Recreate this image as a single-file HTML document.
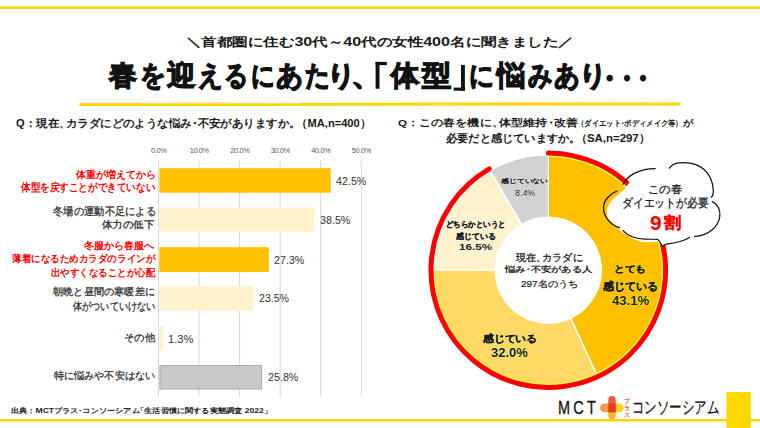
<!DOCTYPE html>
<html lang="ja"><head><meta charset="utf-8"><style>
html,body{margin:0;padding:0;background:#fff;}
body{width:760px;height:428px;position:relative;overflow:hidden;font-family:"Liberation Sans",sans-serif;}
svg.bg{position:absolute;left:0;top:0;}
.t{position:absolute;white-space:nowrap;line-height:1;transform-origin:0 0;}
</style></head><body>
<svg class="bg" width="760" height="428" viewBox="0 0 760 428">
<rect x="0" y="6.3" width="760" height="2.6" fill="#FFD200"/>
<path d="M80.5,104.6 C250,103.8 450,104.8 679.5,103.9" stroke="#FFD400" stroke-width="3.0" fill="none" stroke-linecap="round"/>
<path d="M140,103.4 C200,102.8 260,103.2 300,103.6" stroke="#FFE45A" stroke-width="1.2" fill="none" opacity="0.8"/>
<path d="M330,104.9 C380,105.6 420,105.2 460,104.4" stroke="#FFDD30" stroke-width="1.3" fill="none" opacity="0.8"/>
<path d="M560,103.2 C600,102.6 640,102.8 670,103.2" stroke="#FFE45A" stroke-width="1.2" fill="none" opacity="0.7"/>
<rect x="375.6" y="61.9" width="3.9" height="26.8" fill="#111"/>
<rect x="375.6" y="61.9" width="11.3" height="3.2" fill="#111"/>
<rect x="461" y="64.9" width="3.9" height="25.8" fill="#111"/>
<rect x="453.7" y="87.6" width="11.2" height="3.1" fill="#111"/>
<line x1="158.50" y1="160.5" x2="158.50" y2="396.5" stroke="#D9D9D9" stroke-width="1"/>
<line x1="199.05" y1="160.5" x2="199.05" y2="396.5" stroke="#D9D9D9" stroke-width="1"/>
<line x1="239.60" y1="160.5" x2="239.60" y2="396.5" stroke="#D9D9D9" stroke-width="1"/>
<line x1="280.15" y1="160.5" x2="280.15" y2="396.5" stroke="#D9D9D9" stroke-width="1"/>
<line x1="320.70" y1="160.5" x2="320.70" y2="396.5" stroke="#D9D9D9" stroke-width="1"/>
<line x1="361.25" y1="160.5" x2="361.25" y2="396.5" stroke="#D9D9D9" stroke-width="1"/>
<text x="158.70" y="152.7" font-size="7.4" fill="#595959" text-anchor="middle" font-family="Liberation Sans, sans-serif" letter-spacing="-0.35">0.0%</text>
<text x="199.25" y="152.7" font-size="7.4" fill="#595959" text-anchor="middle" font-family="Liberation Sans, sans-serif" letter-spacing="-0.35">10.0%</text>
<text x="239.80" y="152.7" font-size="7.4" fill="#595959" text-anchor="middle" font-family="Liberation Sans, sans-serif" letter-spacing="-0.35">20.0%</text>
<text x="280.35" y="152.7" font-size="7.4" fill="#595959" text-anchor="middle" font-family="Liberation Sans, sans-serif" letter-spacing="-0.35">30.0%</text>
<text x="320.90" y="152.7" font-size="7.4" fill="#595959" text-anchor="middle" font-family="Liberation Sans, sans-serif" letter-spacing="-0.35">40.0%</text>
<text x="361.45" y="152.7" font-size="7.4" fill="#595959" text-anchor="middle" font-family="Liberation Sans, sans-serif" letter-spacing="-0.35">50.0%</text>
<rect x="159.4" y="168.2" width="171.30" height="24.50" fill="#FFC000"/>
<rect x="159.4" y="207.5" width="154.80" height="24.50" fill="#FFF2CC"/>
<rect x="159.4" y="247.2" width="109.40" height="24.80" fill="#FFC000"/>
<rect x="159.4" y="286" width="94.00" height="24.90" fill="#FFF2CC"/>
<rect x="159.4" y="326" width="3.80" height="24.60" fill="#FFF2CC"/>
<rect x="159.9" y="365.6" width="101.70" height="23.40" fill="#C9C9C9" stroke="#ABABAB" stroke-width="1"/>
<path d="M548.30,154.70 A115.5,115.5 0 0 1 596.82,375.01 L570.56,318.30 A53,53 0 0 0 548.30,217.20 Z" fill="#FFC000" stroke="#fff" stroke-width="1.4" stroke-linejoin="miter"/>
<path d="M596.82,375.01 A115.5,115.5 0 0 1 432.80,269.47 L495.30,269.87 A53,53 0 0 0 570.56,318.30 Z" fill="#FFD966" stroke="#fff" stroke-width="1.4" stroke-linejoin="miter"/>
<path d="M432.80,269.47 A115.5,115.5 0 0 1 490.13,170.42 L521.61,224.41 A53,53 0 0 0 495.30,269.87 Z" fill="#FFF2CC" stroke="#fff" stroke-width="1.4" stroke-linejoin="miter"/>
<path d="M490.13,170.42 A115.5,115.5 0 0 1 548.30,154.70 L548.30,217.20 A53,53 0 0 0 521.61,224.41 Z" fill="#D3D1D1" stroke="#fff" stroke-width="1.4" stroke-linejoin="miter"/>
<path d="M549.30,156.00 A114.2,114.2 0 1 1 434.10,269.48" stroke="#FFF53A" stroke-width="1.8" fill="none"/>
<path d="M434.10,269.48 A114.2,114.2 0 0 1 489.93,172.05" stroke="#FFFDF0" stroke-width="1.6" fill="none"/>
<path d="M548.30,152.90 A117.3,117.3 0 1 1 489.22,168.86" stroke="#FF0000" stroke-width="5" fill="none" stroke-linecap="round"/>
<circle cx="548.3" cy="270.2" r="53" fill="#fff"/>
<path d="M607,214 C606,206 612,199 620,193 C624,190 626,187 629,183 C634,174 644,169 655,168.5 L669,168 C673,163 678,162.5 684,162.5 C700,162.5 712,172 713.3,190 L712.3,201.7 C718,204 720.5,210 719.8,216 C719,227 707,236.5 694.7,236.3 L689.5,237.4 C684,241 675,243 666.3,244 L662.6,246 L658,241.5 C650,243 640,243 630,237 C622,233 619,229 615,225 C610,221 607,218 607,214 Z" fill="#fff"/>
<path d="M617,191 C609,194 603.5,201 603.5,208 C603.5,216 610,225 619.5,227.6" fill="none" stroke="#111" stroke-width="1.25" stroke-linecap="round"/>
<path d="M623,184.3 C628,175 640,168.5 655.2,168.5" fill="none" stroke="#111" stroke-width="1.25" stroke-linecap="round"/>
<path d="M669.3,168.1 C673,163 678,162.5 684,162.5 C700,162.5 712,172 713.3,190 C713.5,193 712.5,196 711.4,197" fill="none" stroke="#111" stroke-width="1.25" stroke-linecap="round"/>
<path d="M712.3,201.7 C718,204 720.5,210 719.8,216 C719,227 707,236.5 694.7,236.3" fill="none" stroke="#111" stroke-width="1.25" stroke-linecap="round"/>
<path d="M623,230.6 C628,236 636,239 645,239 L658,239.5 L662.6,246 L666.3,244.2 C675,243 684,241 689.5,237.4" fill="none" stroke="#111" stroke-width="1.25" stroke-linecap="round"/>
<rect x="0" y="419" width="760" height="2.5" fill="#FFD200"/>
<rect x="726.4" y="392" width="24.4" height="36" fill="#FFD800"/>
<rect x="600" y="403.4" width="14" height="8.9" rx="4.45" fill="#F39A50"/>
<rect x="609.6" y="403.4" width="14" height="8.9" rx="4.45" fill="#FDD122"/>
<rect x="608.3" y="396" width="7.4" height="14" rx="3.7" fill="#EB5A38"/>
<rect x="608.3" y="404.6" width="7.4" height="14.6" rx="3.7" fill="#F8B526"/>
<rect x="608.3" y="403.4" width="7.4" height="8.9" fill="#E53B1E"/>
<text x="627.2" y="392.4" letter-spacing="1.5" font-size="6.3" fill="#E8352A" stroke="#E8352A" stroke-width="0.15" writing-mode="tb" font-family="Liberation Sans, sans-serif">プラス</text>
</svg>
<div id="sub" class="t" style="left:186.11px;top:36.28px;font-size:12.49px;font-weight:bold;color:#1a1a1a;transform:scaleX(1.2904);">＼首都圏に住む30代～40代の女性400名に聞きました／</div>
<div id="t0" class="t" style="left:109.16px;top:61.80px;font-size:27.80px;font-weight:bold;color:#111;transform:scaleX(0.9951);-webkit-text-stroke:1.25px #111;">春</div>
<div id="t1" class="t" style="left:139.89px;top:61.80px;font-size:27.80px;font-weight:bold;color:#111;transform:scaleX(0.9053);-webkit-text-stroke:1.25px #111;">を</div>
<div id="t2" class="t" style="left:166.64px;top:61.80px;font-size:27.80px;font-weight:bold;color:#111;transform:scaleX(1.0188);-webkit-text-stroke:1.25px #111;">迎</div>
<div id="t3" class="t" style="left:198.17px;top:61.80px;font-size:27.80px;font-weight:bold;color:#111;transform:scaleX(0.8777);-webkit-text-stroke:1.25px #111;">え</div>
<div id="t4" class="t" style="left:224.07px;top:61.80px;font-size:27.80px;font-weight:bold;color:#111;transform:scaleX(0.8539);-webkit-text-stroke:1.25px #111;">る</div>
<div id="t5" class="t" style="left:250.96px;top:61.80px;font-size:27.80px;font-weight:bold;color:#111;transform:scaleX(0.8381);-webkit-text-stroke:1.25px #111;">に</div>
<div id="t6" class="t" style="left:276.40px;top:61.80px;font-size:27.80px;font-weight:bold;color:#111;transform:scaleX(0.9608);-webkit-text-stroke:1.25px #111;">あ</div>
<div id="t7" class="t" style="left:304.86px;top:61.80px;font-size:27.80px;font-weight:bold;color:#111;transform:scaleX(0.8777);-webkit-text-stroke:1.25px #111;">た</div>
<div id="t8" class="t" style="left:327.13px;top:61.80px;font-size:27.80px;font-weight:bold;color:#111;transform:scaleX(1.0091);-webkit-text-stroke:1.25px #111;">り</div>
<div id="t9" class="t" style="left:351.13px;top:61.80px;font-size:27.80px;font-weight:bold;color:#111;transform:scaleX(1.1499);-webkit-text-stroke:1.25px #111;">、</div>
<div id="t11" class="t" style="left:391.01px;top:61.80px;font-size:27.80px;font-weight:bold;color:#111;transform:scaleX(1.0047);-webkit-text-stroke:1.25px #111;">体</div>
<div id="t12" class="t" style="left:422.29px;top:61.80px;font-size:27.80px;font-weight:bold;color:#111;transform:scaleX(1.0436);-webkit-text-stroke:1.25px #111;">型</div>
<div id="t14" class="t" style="left:468.85px;top:61.80px;font-size:27.80px;font-weight:bold;color:#111;transform:scaleX(0.8790);-webkit-text-stroke:1.25px #111;">に</div>
<div id="t15" class="t" style="left:496.73px;top:61.80px;font-size:27.80px;font-weight:bold;color:#111;transform:scaleX(1.0116);-webkit-text-stroke:1.25px #111;">悩</div>
<div id="t16" class="t" style="left:527.53px;top:61.80px;font-size:27.80px;font-weight:bold;color:#111;transform:scaleX(0.8586);-webkit-text-stroke:1.25px #111;">み</div>
<div id="t17" class="t" style="left:554.48px;top:61.80px;font-size:27.80px;font-weight:bold;color:#111;transform:scaleX(0.9160);-webkit-text-stroke:1.25px #111;">あ</div>
<div id="t18" class="t" style="left:579.45px;top:61.80px;font-size:27.80px;font-weight:bold;color:#111;transform:scaleX(0.9835);-webkit-text-stroke:1.25px #111;">り</div>
<div id="t19" class="t" style="left:596.40px;top:64.50px;font-size:27.80px;font-weight:bold;color:#111;transform:scaleX(0.9526);-webkit-text-stroke:1.25px #111;">・</div>
<div id="t20" class="t" style="left:613.58px;top:64.50px;font-size:27.80px;font-weight:bold;color:#111;transform:scaleX(0.9058);-webkit-text-stroke:1.25px #111;">・</div>
<div id="t21" class="t" style="left:630.16px;top:64.50px;font-size:27.80px;font-weight:bold;color:#111;transform:scaleX(0.9058);-webkit-text-stroke:1.25px #111;">・</div>
<div id="qL" class="t" style="left:16.00px;top:117.73px;font-size:10.68px;font-weight:bold;color:#1a1a1a;transform:scaleX(1.0402);">Q：現在<span style="margin-right:-.42em">、</span>カラダにどのような悩み<span style="margin:0 -.25em">・</span>不安がありますか<span style="margin-right:-.15em">。</span><span style="margin-left:-.25em">（</span>MA,n=400<span style="margin-right:-.42em">）</span></div>
<div id="c1a" class="t" style="left:75.60px;top:169.76px;font-size:9.61px;font-weight:bold;color:#ff0000;transform:scaleX(0.9999);">体重が増えてから</div>
<div id="c1b" class="t" style="left:20.99px;top:182.13px;font-size:10.60px;font-weight:bold;color:#ff0000;transform:scaleX(0.8711);">体型を戻すことができていない</div>
<div id="c2a" class="t" style="left:52.99px;top:206.44px;font-size:10.63px;font-weight:normal;color:#333333;transform:scaleX(0.9365);-webkit-text-stroke:0.30px #333333;">冬場の運動不足による</div>
<div id="c2b" class="t" style="left:102.46px;top:220.31px;font-size:10.43px;font-weight:normal;color:#333333;transform:scaleX(1.0482);-webkit-text-stroke:0.30px #333333;">体力の低下</div>
<div id="c3a" class="t" style="left:83.98px;top:241.17px;font-size:10.40px;font-weight:bold;color:#ff0000;transform:scaleX(1.0060);">冬服から春服へ</div>
<div id="c3b" class="t" style="left:12.19px;top:254.00px;font-size:9.68px;font-weight:bold;color:#ff0000;transform:scaleX(0.9546);">薄着になるためカラダのラインが</div>
<div id="c3c" class="t" style="left:51.00px;top:268.33px;font-size:9.66px;font-weight:bold;color:#ff0000;transform:scaleX(0.9479);">出やすくなることが心配</div>
<div id="c4a" class="t" style="left:52.83px;top:287.46px;font-size:10.42px;font-weight:normal;color:#333333;transform:scaleX(1.0202);-webkit-text-stroke:0.30px #333333;">朝晩と昼間の寒暖差に</div>
<div id="c4b" class="t" style="left:72.59px;top:301.48px;font-size:10.56px;font-weight:normal;color:#333333;transform:scaleX(0.8327);-webkit-text-stroke:0.30px #333333;">体がついていけない</div>
<div id="c5" class="t" style="left:124.01px;top:332.96px;font-size:9.78px;font-weight:normal;color:#333333;transform:scaleX(1.0322);-webkit-text-stroke:0.30px #333333;">その他</div>
<div id="c6" class="t" style="left:54.40px;top:370.99px;font-size:9.59px;font-weight:normal;color:#333333;transform:scaleX(1.0096);-webkit-text-stroke:0.30px #333333;">特に悩みや不安はない</div>
<div id="v1" class="t" style="left:336.22px;top:176.08px;font-size:10.54px;font-weight:normal;color:#333333;transform:scaleX(1.0169);">42.5%</div>
<div id="v2" class="t" style="left:319.58px;top:215.08px;font-size:10.54px;font-weight:normal;color:#333333;transform:scaleX(1.0182);">38.5%</div>
<div id="v3" class="t" style="left:274.00px;top:254.76px;font-size:10.54px;font-weight:normal;color:#333333;transform:scaleX(1.0169);">27.3%</div>
<div id="v4" class="t" style="left:259.00px;top:293.44px;font-size:10.54px;font-weight:normal;color:#333333;transform:scaleX(1.0037);">23.5%</div>
<div id="v5" class="t" style="left:167.94px;top:333.67px;font-size:10.54px;font-weight:normal;color:#333333;transform:scaleX(1.0595);">1.3%</div>
<div id="v6" class="t" style="left:268.00px;top:372.44px;font-size:10.54px;font-weight:normal;color:#333333;transform:scaleX(1.0182);">25.8%</div>
<div id="src" class="t" style="left:11.00px;top:407.39px;font-size:7.34px;font-weight:bold;color:#1a1a1a;transform:scaleX(1.1675);">出典：MCTプラス<span style="margin:0 -.25em">・</span>コンソーシアム<span style="margin-left:-.42em">「</span>生活習慣に関する実態調査 2022<span style="margin-right:-.42em">」</span></div>
<div id="qR1a" class="t" style="left:398.47px;top:118.39px;font-size:9.50px;font-weight:bold;color:#1a1a1a;transform:scaleX(1.2105);">Q：この春を機に<span style="margin-right:-.42em">、</span>体型維持<span style="margin:0 -.25em">・</span>改善</div>
<div id="qR1b" class="t" style="left:579.10px;top:119.08px;font-size:8.49px;font-weight:bold;color:#1a1a1a;transform:scaleX(0.9125);"><span style="margin-left:-.25em">（</span>ダイエット<span style="margin:0 -.25em">・</span>ボディメイク等<span style="margin-right:-.42em">）</span></div>
<div id="qR1c" class="t" style="left:682.50px;top:118.82px;font-size:8.93px;font-weight:bold;color:#1a1a1a;transform:scaleX(1.1411);">が</div>
<div id="qR2" class="t" style="left:445.99px;top:132.93px;font-size:11.26px;font-weight:bold;color:#1a1a1a;transform:scaleX(1.0172);">必要だと感じていますか<span style="margin-right:-.15em">。</span><span style="margin-left:-.25em">（</span>SA,n=297<span style="margin-right:-.42em">）</span></div>
<div id="d1a" class="t" style="left:613.98px;top:265.31px;font-size:9.10px;font-weight:bold;color:#1a1a1a;transform:scaleX(1.1812);-webkit-text-stroke:0.30px #1a1a1a;text-shadow:0 0 1px #FFFF00,0 0 1px #FFFF00,0 0 1.5px #FFFF00;">とても</div>
<div id="d1b" class="t" style="left:602.97px;top:280.96px;font-size:11.33px;font-weight:bold;color:#1a1a1a;transform:scaleX(0.9972);-webkit-text-stroke:0.25px #1a1a1a;text-shadow:0 0 1px #FFFF00,0 0 1px #FFFF00,0 0 1.5px #FFFF00;">感じている</div>
<div id="d1c" class="t" style="left:611.62px;top:294.08px;font-size:13.24px;font-weight:bold;color:#1a1a1a;transform:scaleX(0.9891);text-shadow:0 0 1px #FFFF00,0 0 1px #FFFF00,0 0 1.5px #FFFF00;">43.1%</div>
<div id="d2a" class="t" style="left:483.10px;top:334.00px;font-size:9.68px;font-weight:bold;color:#1a1a1a;transform:scaleX(1.0789);-webkit-text-stroke:0.25px #1a1a1a;text-shadow:0 0 1px #FFFF88,0 0 1px #FFFF88,0 0 1.5px #FFFF88;">感じている</div>
<div id="d2b" class="t" style="left:491.46px;top:347.20px;font-size:12.16px;font-weight:bold;color:#1a1a1a;transform:scaleX(1.0688);text-shadow:0 0 1px #FFFF88,0 0 1px #FFFF88,0 0 1.5px #FFFF88;">32.0%</div>
<div id="d3a" class="t" style="left:446.36px;top:221.17px;font-size:7.86px;font-weight:bold;color:#1a1a1a;transform:scaleX(0.9369);-webkit-text-stroke:0.20px #1a1a1a;text-shadow:0 0 1px #FFFFF4,0 0 1px #FFFFF4,0 0 1.5px #FFFFF4;">どちらかというと</div>
<div id="d3b" class="t" style="left:455.98px;top:233.28px;font-size:7.68px;font-weight:bold;color:#1a1a1a;transform:scaleX(0.9989);-webkit-text-stroke:0.20px #1a1a1a;text-shadow:0 0 1px #FFFFF4,0 0 1px #FFFFF4,0 0 1.5px #FFFFF4;">感じている</div>
<div id="d3c" class="t" style="left:458.97px;top:242.01px;font-size:9.80px;font-weight:bold;color:#1a1a1a;transform:scaleX(1.1953);text-shadow:0 0 1px #FFFFF4,0 0 1px #FFFFF4,0 0 1.5px #FFFFF4;">16.5%</div>
<div id="d4a" class="t" style="left:500.92px;top:178.48px;font-size:6.07px;font-weight:normal;color:#1a1a1a;transform:scaleX(1.3114);-webkit-text-stroke:0.35px #1a1a1a;text-shadow:0 0 1px #FFFFFF,0 0 1px #FFFFFF,0 0 1.5px #FFFFFF;">感じていない</div>
<div id="d4b" class="t" style="left:515.13px;top:188.01px;font-size:9.80px;font-weight:normal;color:#1a1a1a;transform:scaleX(0.9041);-webkit-text-stroke:0.10px #1a1a1a;text-shadow:0 0 1px #FFFFFF,0 0 1px #FFFFFF,0 0 1.5px #FFFFFF;">8.4%</div>
<div id="m1" class="t" style="left:516.00px;top:252.65px;font-size:9.74px;font-weight:normal;color:#1a1a1a;transform:scaleX(1.0115);-webkit-text-stroke:0.30px #1a1a1a;">現在<span style="margin-right:-.42em">、</span>カラダに</div>
<div id="m2" class="t" style="left:505.39px;top:266.44px;font-size:8.28px;font-weight:normal;color:#1a1a1a;transform:scaleX(1.2835);-webkit-text-stroke:0.30px #1a1a1a;">悩み<span style="margin:0 -.25em">・</span>不安がある人</div>
<div id="m3" class="t" style="left:521.00px;top:279.95px;font-size:8.66px;font-weight:normal;color:#1a1a1a;transform:scaleX(1.1427);-webkit-text-stroke:0.20px #1a1a1a;">297名のうち</div>
<div id="k1" class="t" style="left:648.03px;top:184.19px;font-size:10.96px;font-weight:normal;color:#1a1a1a;transform:scaleX(1.0376);-webkit-text-stroke:0.30px #1a1a1a;">この春</div>
<div id="k2" class="t" style="left:622.22px;top:197.07px;font-size:12.19px;font-weight:normal;color:#1a1a1a;transform:scaleX(0.9020);-webkit-text-stroke:0.30px #1a1a1a;">ダイエットが必要</div>
<div id="k3a" class="t" style="left:650.00px;top:213.62px;font-size:19.77px;font-weight:bold;color:#ff0000;transform:scaleX(1.0592);-webkit-text-stroke:0.20px #ff0000;">9</div>
<div id="k3b" class="t" style="left:663.72px;top:215.11px;font-size:15.92px;font-weight:bold;color:#ff0000;transform:scaleX(1.0711);-webkit-text-stroke:0.30px #ff0000;">割</div>
<div id="mct" class="t" style="left:558.23px;top:400.35px;font-size:17.55px;font-weight:normal;color:#111;transform:scaleX(0.8238);-webkit-text-stroke:0.30px #111;letter-spacing:4px;">MCT</div>
<div id="cons" class="t" style="left:631.65px;top:398.66px;font-size:17.05px;font-weight:normal;color:#111;transform:scaleX(0.7314);-webkit-text-stroke:0.25px #111;">コンソーシアム</div>
</body></html>
